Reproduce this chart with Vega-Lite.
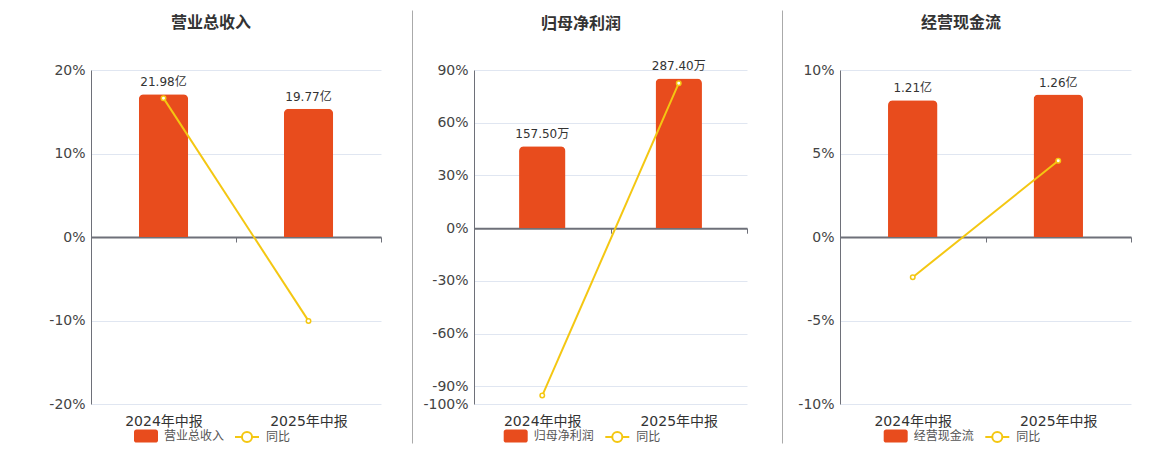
{
  "$schema": "https://vega.github.io/schema/vega-lite/v6.json",
  "background": "white",
  "padding": {"left": 48, "top": 15, "right": 5, "bottom": 4},
  "bounds": "flush",
  "spacing": 93,
  "config": {
    "font": "DejaVu Sans, Noto Sans CJK SC",
    "view": {"stroke": null},
    "legend": {"orient": "none", "direction": "horizontal", "title": null, "padding": 0, "symbolSize": 576, "labelFontSize": 12, "labelColor": "#555555", "labelOffset": 6}
  },
  "resolve": {"scale": {"color": "independent"}, "legend": {"color": "independent"}},
  "hconcat": [
    {
      "width": 290,
      "height": 334,
      "title": {"text": "营业总收入", "fontSize": 16, "fontWeight": "bold", "color": "#333333", "anchor": "middle", "frame": "group", "dx": -25, "offset": 32},
      "data": {"values": [
        {"period": "2024年中报", "value": 21.98, "label": "21.98亿", "yoy": 16.63},
        {"period": "2025年中报", "value": 19.77, "label": "19.77亿", "yoy": -10.05}
      ]},
      "resolve": {"scale": {"x": "independent", "y": "independent", "color": "independent"}, "axis": {"x": "independent", "y": "independent"}, "legend": {"color": "independent"}},
      "layer": [
        {
          "encoding": {
            "x": {"field": "period", "type": "nominal", "sort": null, "scale": {"paddingInner": 0, "paddingOuter": 0},
              "axis": {"orient": "bottom", "offset": -167, "labels": false, "title": null, "grid": false, "domainColor": "#6E7079", "domainWidth": 2, "ticks": true, "tickColor": "#6E7079", "tickSize": 5, "tickWidth": 1, "tickBand": "extent"}},
            "y": {"field": "value", "type": "quantitative", "scale": {"domain": [-25.72, 25.72], "nice": false}, "axis": null}
          },
          "layer": [
            {
              "mark": {"type": "bar", "width": {"band": 0.34}, "cornerRadiusTopLeft": 5, "cornerRadiusTopRight": 5},
              "encoding": {
                "color": {"datum": "营业总收入", "scale": {"domain": ["营业总收入"], "range": ["#E84C1D"]},
                  "legend": {"legendX": 43, "legendY": 354, "symbolType": "M-0.8,-0.55H0.8A0.2,0.2 0 0 1 1,-0.35V0.35A0.2,0.2 0 0 1 0.8,0.55H-0.8A0.2,0.2 0 0 1 -1,0.35V-0.35A0.2,0.2 0 0 1 -0.8,-0.55Z", "symbolStrokeWidth": 0, "symbolOpacity": 1}}
              }
            },
            {
              "mark": {"type": "text", "baseline": "bottom", "dy": -5, "fontSize": 12, "color": "#333333"},
              "encoding": {"text": {"field": "label"}}
            }
          ]
        },
        {
          "encoding": {
            "x": {"field": "period", "type": "nominal", "sort": null, "scale": {"paddingInner": 0, "paddingOuter": 0},
              "axis": {"orient": "bottom", "domain": false, "ticks": false, "labelPadding": 10, "labelFontSize": 14, "labelColor": "#333333", "labelAngle": 0, "title": null, "grid": false}},
            "y": {"field": "yoy", "type": "quantitative", "scale": {"domain": [-20, 20], "nice": false},
              "axis": {"orient": "left", "values": [-20, -10, 0, 10, 20], "labelExpr": "datum.value + '%'", "grid": true, "gridColor": "#E0E6F1", "domainColor": "#6E7079", "ticks": false, "tickSize": 0, "labelFontSize": 14, "labelColor": "#444444", "labelPadding": 6, "title": null}}
          },
          "layer": [
            {"mark": {"type": "line", "strokeWidth": 2},
             "encoding": {"color": {"datum": "同比", "scale": {"domain": ["同比"], "range": ["#F4C712"]},
               "legend": {"legendX": 143, "legendY": 354, "symbolType": "M-1,0H-0.42M0.42,0H1M0.42,0A0.42,0.42 0 1 1 -0.42,0A0.42,0.42 0 1 1 0.42,0Z", "symbolStrokeWidth": 2, "symbolFillColor": "#ffffff", "symbolOpacity": 1}}}},
            {"mark": {"type": "point", "filled": true, "fill": "#ffffff", "stroke": "#F4C712", "strokeWidth": 1.5, "size": 20, "opacity": 1}}
          ]
        },
        {
          "mark": {"type": "rule", "opacity": 0},
          "encoding": {"y": {"datum": 0, "type": "quantitative", "scale": {"domain": [0, 1], "range": [373, -60]},
            "axis": {"orient": "right", "offset": 31, "domainColor": "#AAAAAA", "domainWidth": 1, "ticks": false, "labels": false, "grid": false, "title": null}}}
        }
      ]
    },
    {
      "width": 273,
      "height": 334,
      "title": {"text": "归母净利润", "fontSize": 16, "fontWeight": "bold", "color": "#333333", "anchor": "middle", "frame": "group", "dx": -29.5, "offset": 28},
      "data": {"values": [
        {"period": "2024年中报", "value": 157.5, "label": "157.50万", "yoy": -95.2},
        {"period": "2025年中报", "value": 287.4, "label": "287.40万", "yoy": 82.48}
      ]},
      "resolve": {"scale": {"x": "independent", "y": "independent", "color": "independent"}, "axis": {"x": "independent", "y": "independent"}, "legend": {"color": "independent"}},
      "layer": [
        {
          "encoding": {
            "x": {"field": "period", "type": "nominal", "sort": null, "scale": {"paddingInner": 0, "paddingOuter": 0},
              "axis": {"orient": "bottom", "offset": -175.8, "labels": false, "title": null, "grid": false, "domainColor": "#6E7079", "domainWidth": 2, "ticks": true, "tickColor": "#6E7079", "tickSize": 5, "tickWidth": 1, "tickBand": "extent"}},
            "y": {"field": "value", "type": "quantitative", "scale": {"domain": [-337.5, 303.7], "nice": false}, "axis": null}
          },
          "layer": [
            {
              "mark": {"type": "bar", "width": {"band": 0.34}, "cornerRadiusTopLeft": 5, "cornerRadiusTopRight": 5},
              "encoding": {
                "color": {"datum": "归母净利润", "scale": {"domain": ["归母净利润"], "range": ["#E84C1D"]},
                  "legend": {"legendX": 29.7, "legendY": 354, "symbolType": "M-0.8,-0.55H0.8A0.2,0.2 0 0 1 1,-0.35V0.35A0.2,0.2 0 0 1 0.8,0.55H-0.8A0.2,0.2 0 0 1 -1,0.35V-0.35A0.2,0.2 0 0 1 -0.8,-0.55Z", "symbolStrokeWidth": 0, "symbolOpacity": 1}}
              }
            },
            {
              "mark": {"type": "text", "baseline": "bottom", "dy": -5, "fontSize": 12, "color": "#333333"},
              "encoding": {"text": {"field": "label"}}
            }
          ]
        },
        {
          "encoding": {
            "x": {"field": "period", "type": "nominal", "sort": null, "scale": {"paddingInner": 0, "paddingOuter": 0},
              "axis": {"orient": "bottom", "domain": false, "ticks": false, "labelPadding": 10, "labelFontSize": 14, "labelColor": "#333333", "labelAngle": 0, "title": null, "grid": false}},
            "y": {"field": "yoy", "type": "quantitative", "scale": {"domain": [-100, 90], "nice": false},
              "axis": {"orient": "left", "values": [-100, -90, -60, -30, 0, 30, 60, 90], "labelExpr": "datum.value + '%'", "grid": true, "gridColor": "#E0E6F1", "domainColor": "#6E7079", "ticks": false, "tickSize": 0, "labelFontSize": 14, "labelColor": "#444444", "labelPadding": 6, "title": null}}
          },
          "layer": [
            {"mark": {"type": "line", "strokeWidth": 2},
             "encoding": {"color": {"datum": "同比", "scale": {"domain": ["同比"], "range": ["#F4C712"]},
               "legend": {"legendX": 130.3, "legendY": 354, "symbolType": "M-1,0H-0.42M0.42,0H1M0.42,0A0.42,0.42 0 1 1 -0.42,0A0.42,0.42 0 1 1 0.42,0Z", "symbolStrokeWidth": 2, "symbolFillColor": "#ffffff", "symbolOpacity": 1}}}},
            {"mark": {"type": "point", "filled": true, "fill": "#ffffff", "stroke": "#F4C712", "strokeWidth": 1.5, "size": 20, "opacity": 1}}
          ]
        },
        {
          "mark": {"type": "rule", "opacity": 0},
          "encoding": {"y": {"datum": 0, "type": "quantitative", "scale": {"domain": [0, 1], "range": [373, -60]},
            "axis": {"orient": "right", "offset": 35, "domainColor": "#AAAAAA", "domainWidth": 1, "ticks": false, "labels": false, "grid": false, "title": null}}}
        }
      ]
    },
    {
      "width": 291,
      "height": 334,
      "title": {"text": "经营现金流", "fontSize": 16, "fontWeight": "bold", "color": "#333333", "anchor": "middle", "frame": "group", "dx": -24.5, "offset": 32},
      "data": {"values": [
        {"period": "2024年中报", "value": 1.21, "label": "1.21亿", "yoy": -2.41},
        {"period": "2025年中报", "value": 1.26, "label": "1.26亿", "yoy": 4.57}
      ]},
      "resolve": {"scale": {"x": "independent", "y": "independent", "color": "independent"}, "axis": {"x": "independent", "y": "independent"}, "legend": {"color": "independent"}},
      "layer": [
        {
          "encoding": {
            "x": {"field": "period", "type": "nominal", "sort": null, "scale": {"paddingInner": 0, "paddingOuter": 0},
              "axis": {"orient": "bottom", "offset": -167, "labels": false, "title": null, "grid": false, "domainColor": "#6E7079", "domainWidth": 2, "ticks": true, "tickColor": "#6E7079", "tickSize": 5, "tickWidth": 1, "tickBand": "extent"}},
            "y": {"field": "value", "type": "quantitative", "scale": {"domain": [-1.4777, 1.4777], "nice": false}, "axis": null}
          },
          "layer": [
            {
              "mark": {"type": "bar", "width": {"band": 0.34}, "cornerRadiusTopLeft": 5, "cornerRadiusTopRight": 5},
              "encoding": {
                "color": {"datum": "经营现金流", "scale": {"domain": ["经营现金流"], "range": ["#E84C1D"]},
                  "legend": {"legendX": 43.7, "legendY": 354, "symbolType": "M-0.8,-0.55H0.8A0.2,0.2 0 0 1 1,-0.35V0.35A0.2,0.2 0 0 1 0.8,0.55H-0.8A0.2,0.2 0 0 1 -1,0.35V-0.35A0.2,0.2 0 0 1 -0.8,-0.55Z", "symbolStrokeWidth": 0, "symbolOpacity": 1}}
              }
            },
            {
              "mark": {"type": "text", "baseline": "bottom", "dy": -5, "fontSize": 12, "color": "#333333"},
              "encoding": {"text": {"field": "label"}}
            }
          ]
        },
        {
          "encoding": {
            "x": {"field": "period", "type": "nominal", "sort": null, "scale": {"paddingInner": 0, "paddingOuter": 0},
              "axis": {"orient": "bottom", "domain": false, "ticks": false, "labelPadding": 10, "labelFontSize": 14, "labelColor": "#333333", "labelAngle": 0, "title": null, "grid": false}},
            "y": {"field": "yoy", "type": "quantitative", "scale": {"domain": [-10, 10], "nice": false},
              "axis": {"orient": "left", "values": [-10, -5, 0, 5, 10], "labelExpr": "datum.value + '%'", "grid": true, "gridColor": "#E0E6F1", "domainColor": "#6E7079", "ticks": false, "tickSize": 0, "labelFontSize": 14, "labelColor": "#444444", "labelPadding": 6, "title": null}}
          },
          "layer": [
            {"mark": {"type": "line", "strokeWidth": 2},
             "encoding": {"color": {"datum": "同比", "scale": {"domain": ["同比"], "range": ["#F4C712"]},
               "legend": {"legendX": 144.3, "legendY": 354, "symbolType": "M-1,0H-0.42M0.42,0H1M0.42,0A0.42,0.42 0 1 1 -0.42,0A0.42,0.42 0 1 1 0.42,0Z", "symbolStrokeWidth": 2, "symbolFillColor": "#ffffff", "symbolOpacity": 1}}}},
            {"mark": {"type": "point", "filled": true, "fill": "#ffffff", "stroke": "#F4C712", "strokeWidth": 1.5, "size": 20, "opacity": 1}}
          ]
        }
      ]
    }
  ]
}
